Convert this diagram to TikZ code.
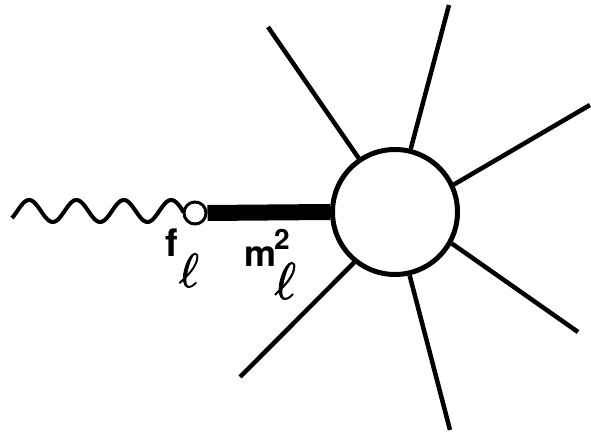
\documentclass[tikz,border=0pt]{standalone}
\usepackage{fontspec}
\newfontfamily\heros{TeX Gyre Heros}
\newfontfamily\lmm[FakeBold=1.6]{latinmodern-math.otf}
\tikzset{every node/.style={inner sep=0pt},
  lbl/.style={anchor=base west},
  spoke/.style={line width=4.5pt},
  bar/.style={line width=16pt},
  wave/.style={line width=4pt,line join=round},
  blob/.style={circle,draw,line width=5pt,minimum size=125pt},
  vtx/.style={circle,draw,line width=3pt,minimum size=22pt}}
\newcommand{\lsc}[2]{\raisebox{#1}{\fontsize{#2}{#2}\selectfont\lmm ℓ}}
\newcommand{\hv}[1]{\fontsize{#1}{#1}\heros\bfseries}

\begin{document}
\begin{tikzpicture}[x=1pt,y=1pt]
\useasboundingbox (0,0) rectangle (591,435);
\node[blob] (blob) at (395,223) {};
\node[vtx] (vtx) at (195,222) {};
\coordinate (wl) at (12,224);
\draw[wave] plot[domain=-40:1260,samples=160] ({12+0.13154*(\x+40)},{224+11*sin(\x)}) -- (vtx.west);
\draw[bar] (vtx.east) -- (blob.west);
% outgoing legs
\coordinate (e1) at (268,408);
\coordinate (e2) at (449,430);
\coordinate (e3) at (590,330);
\coordinate (e4) at (578,103);
\coordinate (e5) at (450,5);
\coordinate (e6) at (240,58);
\draw[spoke] (blob.124.4) -- (e1);
\draw[spoke] (blob.76.4) -- (e2);
\draw[spoke] (blob.25.8) -- (e3);
\draw[spoke] (blob.-29.4) -- (e4);
\draw[spoke] (blob.-77.2) -- (e5);
\draw[spoke] (blob.-129.1) -- (e6);
% labels
\node[lbl] (fl) at (165,178) {\hv{38}f\kern1pt\lsc{-30pt}{48}};
\node[lbl] (ml) at (244,168) {\hv{36}m\kern-2pt\rlap{\raisebox{17pt}{\hv{28}2}}\lsc{-32pt}{52}};
\end{tikzpicture}
\end{document}
